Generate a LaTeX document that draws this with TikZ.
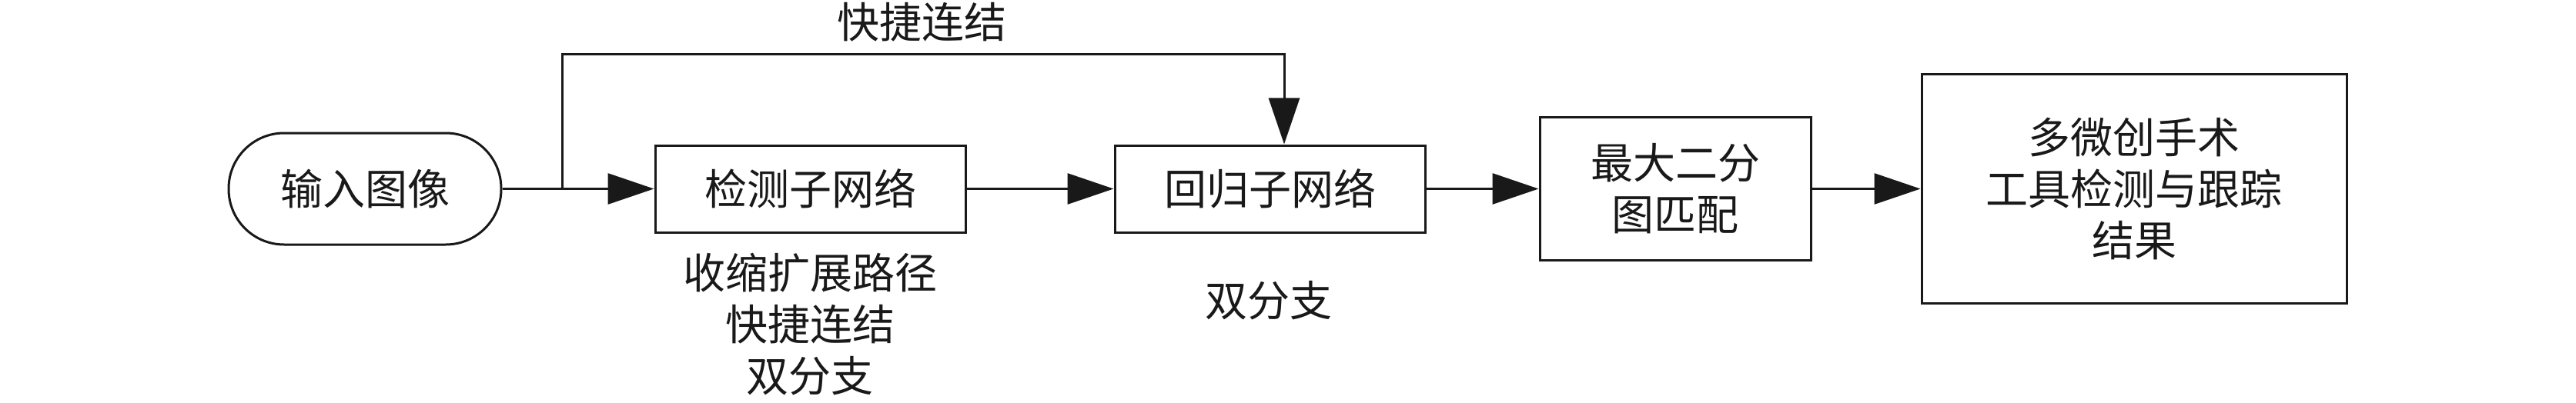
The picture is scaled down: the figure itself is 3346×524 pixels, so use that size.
\documentclass[tikz,border=0pt]{standalone}
\usepackage{fontspec}
\setmainfont{Noto Sans CJK SC}
\usetikzlibrary{arrows.meta}
\begin{document}
\begin{tikzpicture}[x=0.5pt,y=-0.5pt,
  every node/.style={font=\fontsize{27.5pt}{33.5pt}\selectfont, align=center, inner sep=0pt, text=black!90},
  boxnode/.style={draw=black!90, line width=1.5pt, rectangle},
  conn/.style={draw=black!90, line width=1.5pt, -{Triangle[length=30pt,width=20pt]}}]
\useasboundingbox (0,0) rectangle (3346,524);
\node[boxnode, rounded corners=36pt, minimum width=177pt, minimum height=72.5pt] (in) at (474,245.5) {输入图像};
\node[boxnode, minimum width=201.5pt, minimum height=56.5pt] (det) at (1052.5,245.5) {检测子网络};
\node[boxnode, minimum width=201.5pt, minimum height=56.5pt] (reg) at (1649.5,245.5) {回归子网络};
\node[boxnode, minimum width=176pt, minimum height=92.5pt] (max) at (2176,245.5) {最大二分\\图匹配};
\node[boxnode, minimum width=276pt, minimum height=149pt] (res) at (2772,245.5) {多微创手术\\工具检测与跟踪\\结果};
\node (sclab) at (1197,29) {快捷连结};
\node (detlab) at (1052,421.5) {收缩扩展路径\\快捷连结\\双分支};
\node (reglab) at (1648,391) {双分支};
\draw[conn] (in) -- (det);
\draw[conn] (det) -- (reg);
\draw[conn] (reg) -- (max);
\draw[conn] (max) -- (res);
\coordinate (scs) at (730,245.5);
\coordinate (sct) at (1668,71);
\draw[conn] (scs) |- (sct) -- (sct |- reg.north);
\end{tikzpicture}
\end{document}
